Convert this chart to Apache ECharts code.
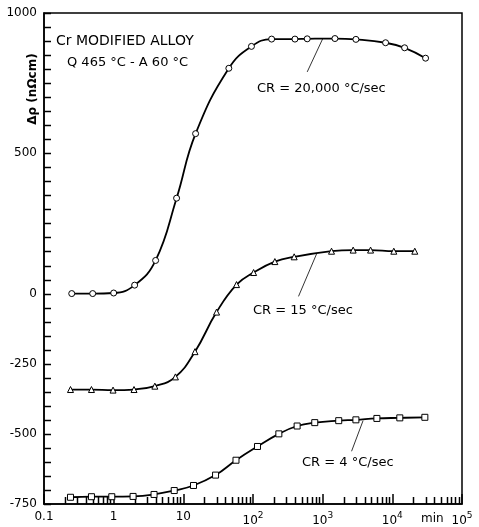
<!DOCTYPE html>
<html>
<head>
    <meta charset="utf-8">
    <script src="https://cdn.jsdelivr.net/npm/echarts@6/dist/echarts.min.js"></script>
</head>
<body style="margin:0">
    <div id="main" style="width:479px;height:527px;"></div>
    <script type="text/javascript">
        // ageing time (min) and resistivity change (nOhm cm)
        var timeCR20000 = [0.25, 0.5, 1, 2, 4, 8, 15, 45, 95, 185, 400, 600, 1500, 3000, 8000, 15000, 30000];
        var rhoCR20000  = [0, 0, 2, 30, 118, 340, 570, 803, 881, 907, 907, 908, 909, 906, 894, 876, 839];

        var timeCR15 = [0.24, 0.48, 0.98, 1.96, 3.9, 7.7, 14.7, 30, 58, 102, 206, 390, 1340, 2740, 4870, 10500, 21000];
        var rhoCR15  = [-342, -342, -344, -342, -330, -297, -207, -66, 32, 75, 114, 131, 151, 155, 155, 151, 151];

        var timeCR4 = [0.24, 0.48, 0.94, 1.9, 3.8, 7.4, 14, 29, 57, 116, 235, 430, 770, 1700, 3000, 6000, 12800, 29300];
        var rhoCR4  = [-726, -724, -724, -723, -716, -702, -684, -647, -594, -545, -500, -472, -460, -453, -450, -445, -443, -441];

        // leader lines from label to curve, in data units [time, rho]
        var leader20000 = [[600, 790], [1000, 908]];
        var leader15 = [[450, -10], [820, 142]];
        var leader4 = [[2600, -562], [3800, -453]];

        var yLabels = [1000, 500, 0, -250, -500, -750];
        var yMin = -750, yMax = 1000, yStep = 50;
        var decades = [0.1, 1, 10, 100, 1000, 10000];
        var minorSteps = [2, 3, 4, 5, 6, 7, 8, 9];

        function pairs(xs, ys) {
            var res = [];
            for (var i = 0; i < xs.length; i++) res.push([xs[i], ys[i]]);
            return res;
        }

        // log minor ticks along the bottom
        var xMinorTicks = [];
        decades.forEach(function (d) {
            minorSteps.forEach(function (m) { xMinorTicks.push([m * d, yMin]); });
        });
        // rho ticks along the left edge (x only used to place the item)
        var yTicks = [];
        for (var k = yMin; k <= yMax; k += yStep) yTicks.push([1, k]);

        var myChart = echarts.init(document.getElementById('main'));
        var font = 'DejaVu Sans';

        function curve(name, symbol, data, leader) {
            return {
                name: name,
                type: 'line',
                data: data,
                smooth: 0.45,
                symbol: symbol,
                symbolSize: 6,
                showAllSymbol: true,
                lineStyle: { color: '#000', width: 1.8 },
                itemStyle: { color: '#fff', borderColor: '#000', borderWidth: 1 },
                z: 3,
                markLine: {
                    silent: true,
                    symbol: ['none', 'none'],
                    label: { show: false },
                    lineStyle: { color: '#000', width: 0.8, type: 'solid' },
                    data: [[{ coord: leader[0] }, { coord: leader[1] }]]
                }
            };
        }

        var option = {
            backgroundColor: '#fff',
            animation: false,
            grid: {
                left: 44, right: 17, top: 13, bottom: 22,
                show: true, borderColor: '#000', borderWidth: 1.5
            },
            xAxis: {
                type: 'log',
                logBase: 10,
                min: 0.1,
                max: 100000,
                axisLine: { onZero: false, lineStyle: { color: '#000', width: 1.5 } },
                axisTick: { show: true, inside: true, length: 10, lineStyle: { color: '#000', width: 1.5 } },
                splitLine: { show: false },
                axisLabel: {
                    margin: 7,
                    color: '#000',
                    fontFamily: font,
                    fontSize: 12,
                    formatter: function (v) {
                        var e = Math.round(Math.log10(v));
                        if (e === -1) return '0.1';
                        if (e === 0) return '1';
                        if (e === 1) return '10';
                        return '{b|10}{s|' + e + '}';
                    },
                    rich: {
                        b: { fontFamily: font, fontSize: 12, color: '#000', lineHeight: 16, verticalAlign: 'bottom' },
                        s: { fontFamily: font, fontSize: 9, color: '#000', lineHeight: 16, verticalAlign: 'top' }
                    }
                }
            },
            yAxis: {
                type: 'value',
                min: yMin,
                max: yMax,
                interval: yStep,
                axisLine: { show: true, onZero: false, lineStyle: { color: '#000', width: 1.5 } },
                axisTick: { show: false },
                splitLine: { show: false },
                axisLabel: {
                    interval: 0,
                    margin: 7,
                    color: '#000',
                    fontFamily: font,
                    fontSize: 12,
                    formatter: function (v) {
                        return yLabels.indexOf(v) >= 0 ? String(v) : '';
                    }
                }
            },
            graphic: [
                { type: 'text', x: 56, y: 41, style: { text: 'Cr MODIFIED ALLOY', font: '14px "DejaVu Sans"', fill: '#000', textVerticalAlign: 'middle' } },
                { type: 'text', x: 67, y: 63, style: { text: 'Q 465 °C - A 60 °C', font: '13px "DejaVu Sans"', fill: '#000', textVerticalAlign: 'middle' } },
                { type: 'text', x: 33, y: 89, rotation: Math.PI / 2, style: { text: 'Δρ (nΩcm)', font: 'bold 12px "DejaVu Sans"', fill: '#000', textAlign: 'center', textVerticalAlign: 'middle' } },
                { type: 'text', x: 257, y: 89, style: { text: 'CR = 20,000 °C/sec', font: '13px "DejaVu Sans"', fill: '#000', textVerticalAlign: 'middle' } },
                { type: 'text', x: 253, y: 311, style: { text: 'CR = 15 °C/sec', font: '13px "DejaVu Sans"', fill: '#000', textVerticalAlign: 'middle' } },
                { type: 'text', x: 302, y: 463, style: { text: 'CR = 4 °C/sec', font: '13px "DejaVu Sans"', fill: '#000', textVerticalAlign: 'middle' } },
                { type: 'text', x: 421, y: 519, style: { text: 'min', font: '12px "DejaVu Sans"', fill: '#000', textVerticalAlign: 'middle' } }
            ],
            series: [
                curve('CR = 20,000 °C/sec', 'circle', pairs(timeCR20000, rhoCR20000), leader20000),
                curve('CR = 15 °C/sec', 'triangle', pairs(timeCR15, rhoCR15), leader15),
                curve('CR = 4 °C/sec', 'rect', pairs(timeCR4, rhoCR4), leader4),
                {
                    type: 'custom',
                    data: xMinorTicks,
                    encode: { x: 0, y: 1 },
                    renderItem: function (params, api) {
                        var p = api.coord([api.value(0), api.value(1)]);
                        var x = Math.round(p[0]) + 0.5;
                        return {
                            type: 'line',
                            shape: { x1: x, y1: p[1], x2: x, y2: p[1] - 7 },
                            style: { stroke: '#000', lineWidth: 1.5 }
                        };
                    }
                },
                {
                    type: 'custom',
                    data: yTicks,
                    encode: { x: 0, y: 1 },
                    renderItem: function (params, api) {
                        var p = api.coord([api.value(0), api.value(1)]);
                        var x0 = params.coordSys.x;
                        var y = Math.round(p[1]) + 0.5;
                        return {
                            type: 'line',
                            shape: { x1: x0, y1: y, x2: x0 + 7, y2: y },
                            style: { stroke: '#000', lineWidth: 1.5 }
                        };
                    }
                }
            ]
        };

        myChart.setOption(option);
    </script>
</body>
</html>
